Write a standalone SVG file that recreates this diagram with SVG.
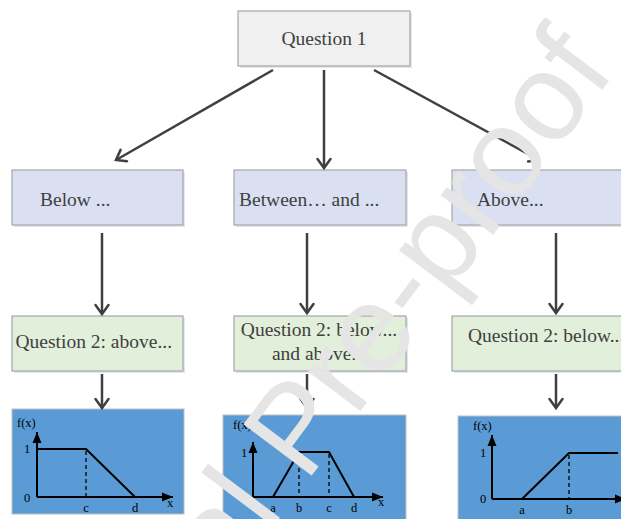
<svg xmlns="http://www.w3.org/2000/svg" width="621" height="519" viewBox="0 0 621 519">
<defs>
<marker id="open" markerUnits="userSpaceOnUse" markerWidth="24" markerHeight="24" refX="0" refY="0" viewBox="-12 -12 24 24" orient="auto">
<path d="M-9,-6.5 L0,0 L-9,6.5" fill="none" stroke="#404040" stroke-width="2.5" stroke-linecap="round" stroke-linejoin="miter"/>
</marker>
<marker id="solid" markerUnits="userSpaceOnUse" markerWidth="20" markerHeight="20" refX="0" refY="0" viewBox="-12 -10 20 20" orient="auto">
<path d="M-11,-4.5 L0,0 L-11,4.5 Z" fill="#000"/>
</marker>
<style>
.box{stroke:#a6a6a6;stroke-width:1.2}
.shadow{fill:#dfe7f1}
.q1{fill:#f0f0f0}
.r2{fill:#dae0f2}
.r3{fill:#e2efda}
.lbl{font-family:"Liberation Serif","Times New Roman",serif;font-size:19.5px;fill:#404040}
.plot{fill:#5b9bd5;stroke:#bfbfbf;stroke-width:1}
.ax{stroke:#000;stroke-width:2;fill:none}
.curve{stroke:#000;stroke-width:2;fill:none;stroke-linejoin:miter}
.dash{stroke:#000;stroke-width:1.3;stroke-dasharray:4 3;fill:none}
.pt{font-family:"Liberation Serif","Times New Roman",serif;font-size:12.5px;fill:#000}
.conn{stroke:#404040;stroke-width:2.5;fill:none;marker-end:url(#open)}
.wm{font-family:"Liberation Sans",Arial,sans-serif;font-size:124px;fill:#e5e5e5}
</style>
</defs>
<rect width="621" height="519" fill="#fff"/>

<g id="question1">
<rect class="shadow" x="240" y="13" width="172" height="55"/>
<rect class="box q1" x="238" y="11" width="172" height="55"/>
<text class="lbl" x="324" y="45" text-anchor="middle">Question 1</text>
</g>

<g id="below">
<rect class="shadow" x="14" y="172" width="171" height="55"/>
<rect class="box r2" x="12" y="170" width="171" height="55"/>
<text class="lbl" x="40" y="206">Below ...</text>
</g>
<g id="between">
<rect class="shadow" x="236" y="172" width="172" height="55"/>
<rect class="box r2" x="234" y="170" width="172" height="55"/>
<text class="lbl" x="239" y="206">Between… and ...</text>
</g>
<g id="above">
<rect class="shadow" x="454" y="172" width="180" height="55"/>
<rect class="box r2" x="452" y="170" width="180" height="55"/>
<text class="lbl" x="477" y="206">Above...</text>
</g>

<g id="q2-above">
<rect class="shadow" x="14" y="318" width="171" height="55"/>
<rect class="box r3" x="12" y="316" width="171" height="55"/>
<text class="lbl" x="15.5" y="348">Question 2: above...</text>
</g>
<g id="q2-between">
<rect class="shadow" x="236" y="318" width="172" height="55"/>
<rect class="box r3" x="234" y="316" width="172" height="55"/>
<text class="lbl" x="319" y="336" text-anchor="middle">Question 2: below...</text>
<text class="lbl" x="319" y="360" text-anchor="middle">and above...</text>
</g>
<g id="q2-below">
<rect class="shadow" x="454" y="318" width="180" height="55"/>
<rect class="box r3" x="452" y="316" width="180" height="55"/>
<text class="lbl" x="468" y="342">Question 2: below...</text>
</g>

<g id="plot-left">
<rect class="plot" x="12" y="409" width="172" height="105"/>
<line class="ax" x1="37" y1="497" x2="37" y2="432" marker-end="url(#solid)"/>
<line class="ax" x1="37" y1="497" x2="173" y2="497" marker-end="url(#solid)"/>
<polyline class="curve" points="37,449 86,449 135,497"/>
<line class="dash" x1="86" y1="451" x2="86" y2="496"/>
<text class="pt" x="17" y="427">f(x)</text>
<text class="pt" x="24" y="453">1</text>
<text class="pt" x="24" y="502">0</text>
<text class="pt" x="86" y="512" text-anchor="middle">c</text>
<text class="pt" x="135" y="512" text-anchor="middle">d</text>
<text class="pt" x="170" y="507" text-anchor="middle">x</text>
</g>

<g id="plot-middle">
<rect class="plot" x="223" y="415" width="183" height="110"/>
<line class="ax" x1="253" y1="497" x2="253" y2="442" marker-end="url(#solid)"/>
<line class="ax" x1="253" y1="497" x2="383" y2="497" marker-end="url(#solid)"/>
<polyline class="curve" points="273,497 299,452 329,452 354,497"/>
<line class="dash" x1="299" y1="454" x2="299" y2="496"/>
<line class="dash" x1="329" y1="454" x2="329" y2="496"/>
<text class="pt" x="233" y="429">f(x)</text>
<text class="pt" x="241" y="457">1</text>
<text class="pt" x="241" y="501">0</text>
<text class="pt" x="273" y="512" text-anchor="middle">a</text>
<text class="pt" x="299" y="512" text-anchor="middle">b</text>
<text class="pt" x="329" y="512" text-anchor="middle">c</text>
<text class="pt" x="354" y="512" text-anchor="middle">d</text>
<text class="pt" x="381" y="506" text-anchor="middle">x</text>
</g>

<g id="plot-right">
<rect class="plot" x="458" y="416" width="170" height="110"/>
<line class="ax" x1="492" y1="499" x2="492" y2="435" marker-end="url(#solid)"/>
<line class="ax" x1="492" y1="499" x2="626" y2="499" marker-end="url(#solid)"/>
<polyline class="curve" points="522,499 569,453 618,453"/>
<line class="dash" x1="569" y1="455" x2="569" y2="498"/>
<text class="pt" x="473" y="430">f(x)</text>
<text class="pt" x="480" y="457">1</text>
<text class="pt" x="480" y="503">0</text>
<text class="pt" x="522" y="514" text-anchor="middle">a</text>
<text class="pt" x="569" y="514" text-anchor="middle">b</text>
</g>

<g id="connectors">
<line class="conn" x1="273" y1="70" x2="116" y2="160"/>
<line class="conn" x1="324" y1="70" x2="324" y2="168"/>
<line class="conn" x1="374" y1="70" x2="539" y2="160"/>
<line class="conn" x1="102" y1="233" x2="102" y2="314"/>
<line class="conn" x1="307" y1="233" x2="307" y2="313"/>
<line class="conn" x1="556" y1="233" x2="556" y2="313"/>
<line class="conn" x1="102" y1="374" x2="102" y2="408"/>
<line class="conn" x1="307" y1="374" x2="307" y2="408"/>
<line class="conn" x1="556" y1="374" x2="556" y2="408"/>
</g>

<g id="watermark">
<text class="wm" transform="translate(40,836) rotate(-53)">Journal Pre-proof</text>
</g>
</svg>
